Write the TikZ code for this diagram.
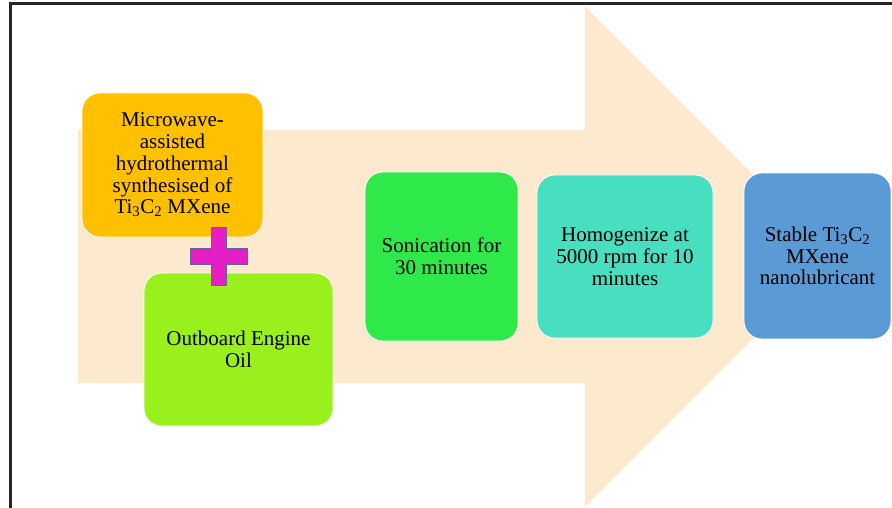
\documentclass[tikz,border=0pt]{standalone}
\usepackage{fontspec}
\setmainfont{Liberation Serif}
\definecolor{arrowfill}{RGB}{253,233,206}
\definecolor{mxorange}{RGB}{255,192,0}
\definecolor{oillime}{RGB}{153,240,28}
\definecolor{sonicgreen}{RGB}{47,232,74}
\definecolor{homogteal}{RGB}{72,222,192}
\definecolor{nanoblue}{RGB}{91,155,213}
\definecolor{plusmag}{RGB}{230,30,198}
\definecolor{plusedge}{RGB}{95,100,150}
\tikzset{
  stepbox/.style={rounded corners=18pt, draw=white, line width=0.8pt, align=center,
    inner sep=0pt, font=\fontsize{21}{21.7}\selectfont}
}
\begin{document}
\begin{tikzpicture}[x=1pt,y=-1pt]
\clip (0,0) rectangle (892,508);
\fill[arrowfill] (78,130) -- (585,130) -- (585,6) -- (835,256.5) -- (585,507) -- (585,383) -- (78,383) -- cycle;
\node[stepbox, fill=mxorange, minimum width=181pt, minimum height=144pt] (mxene) at (172.5,165)
  {Microwave-\\assisted\\hydrothermal\\synthesised of\\Ti\textsubscript{3}C\textsubscript{2} MXene};
\node[stepbox, fill=oillime, minimum width=189pt, minimum height=153pt] (oil) at (238.5,349.5)
  {Outboard Engine\\Oil};
\node[stepbox, fill=sonicgreen, minimum width=153pt, minimum height=169pt] (sonic) at (441.5,256.5)
  {Sonication for\\30 minutes};
\node[stepbox, fill=homogteal, minimum width=176pt, minimum height=163pt] (homog) at (625,256.5)
  {Homogenize at\\5000 rpm for 10\\minutes};
\node[stepbox, fill=nanoblue, minimum width=147pt, minimum height=166pt] (nanolub) at (817.5,256)
  {Stable Ti\textsubscript{3}C\textsubscript{2}\\MXene\\nanolubricant};
\draw[fill=plusmag, draw=plusedge, line width=1pt] (211,227) -- (226,227) -- (226,248) -- (247,248)
  -- (247,264) -- (226,264) -- (226,285) -- (211,285) -- (211,264) -- (190,264) -- (190,248)
  -- (211,248) -- cycle;
\draw[line width=2.5pt, black!85] (10.5,520) |- (900,3.5);
\end{tikzpicture}
\end{document}
